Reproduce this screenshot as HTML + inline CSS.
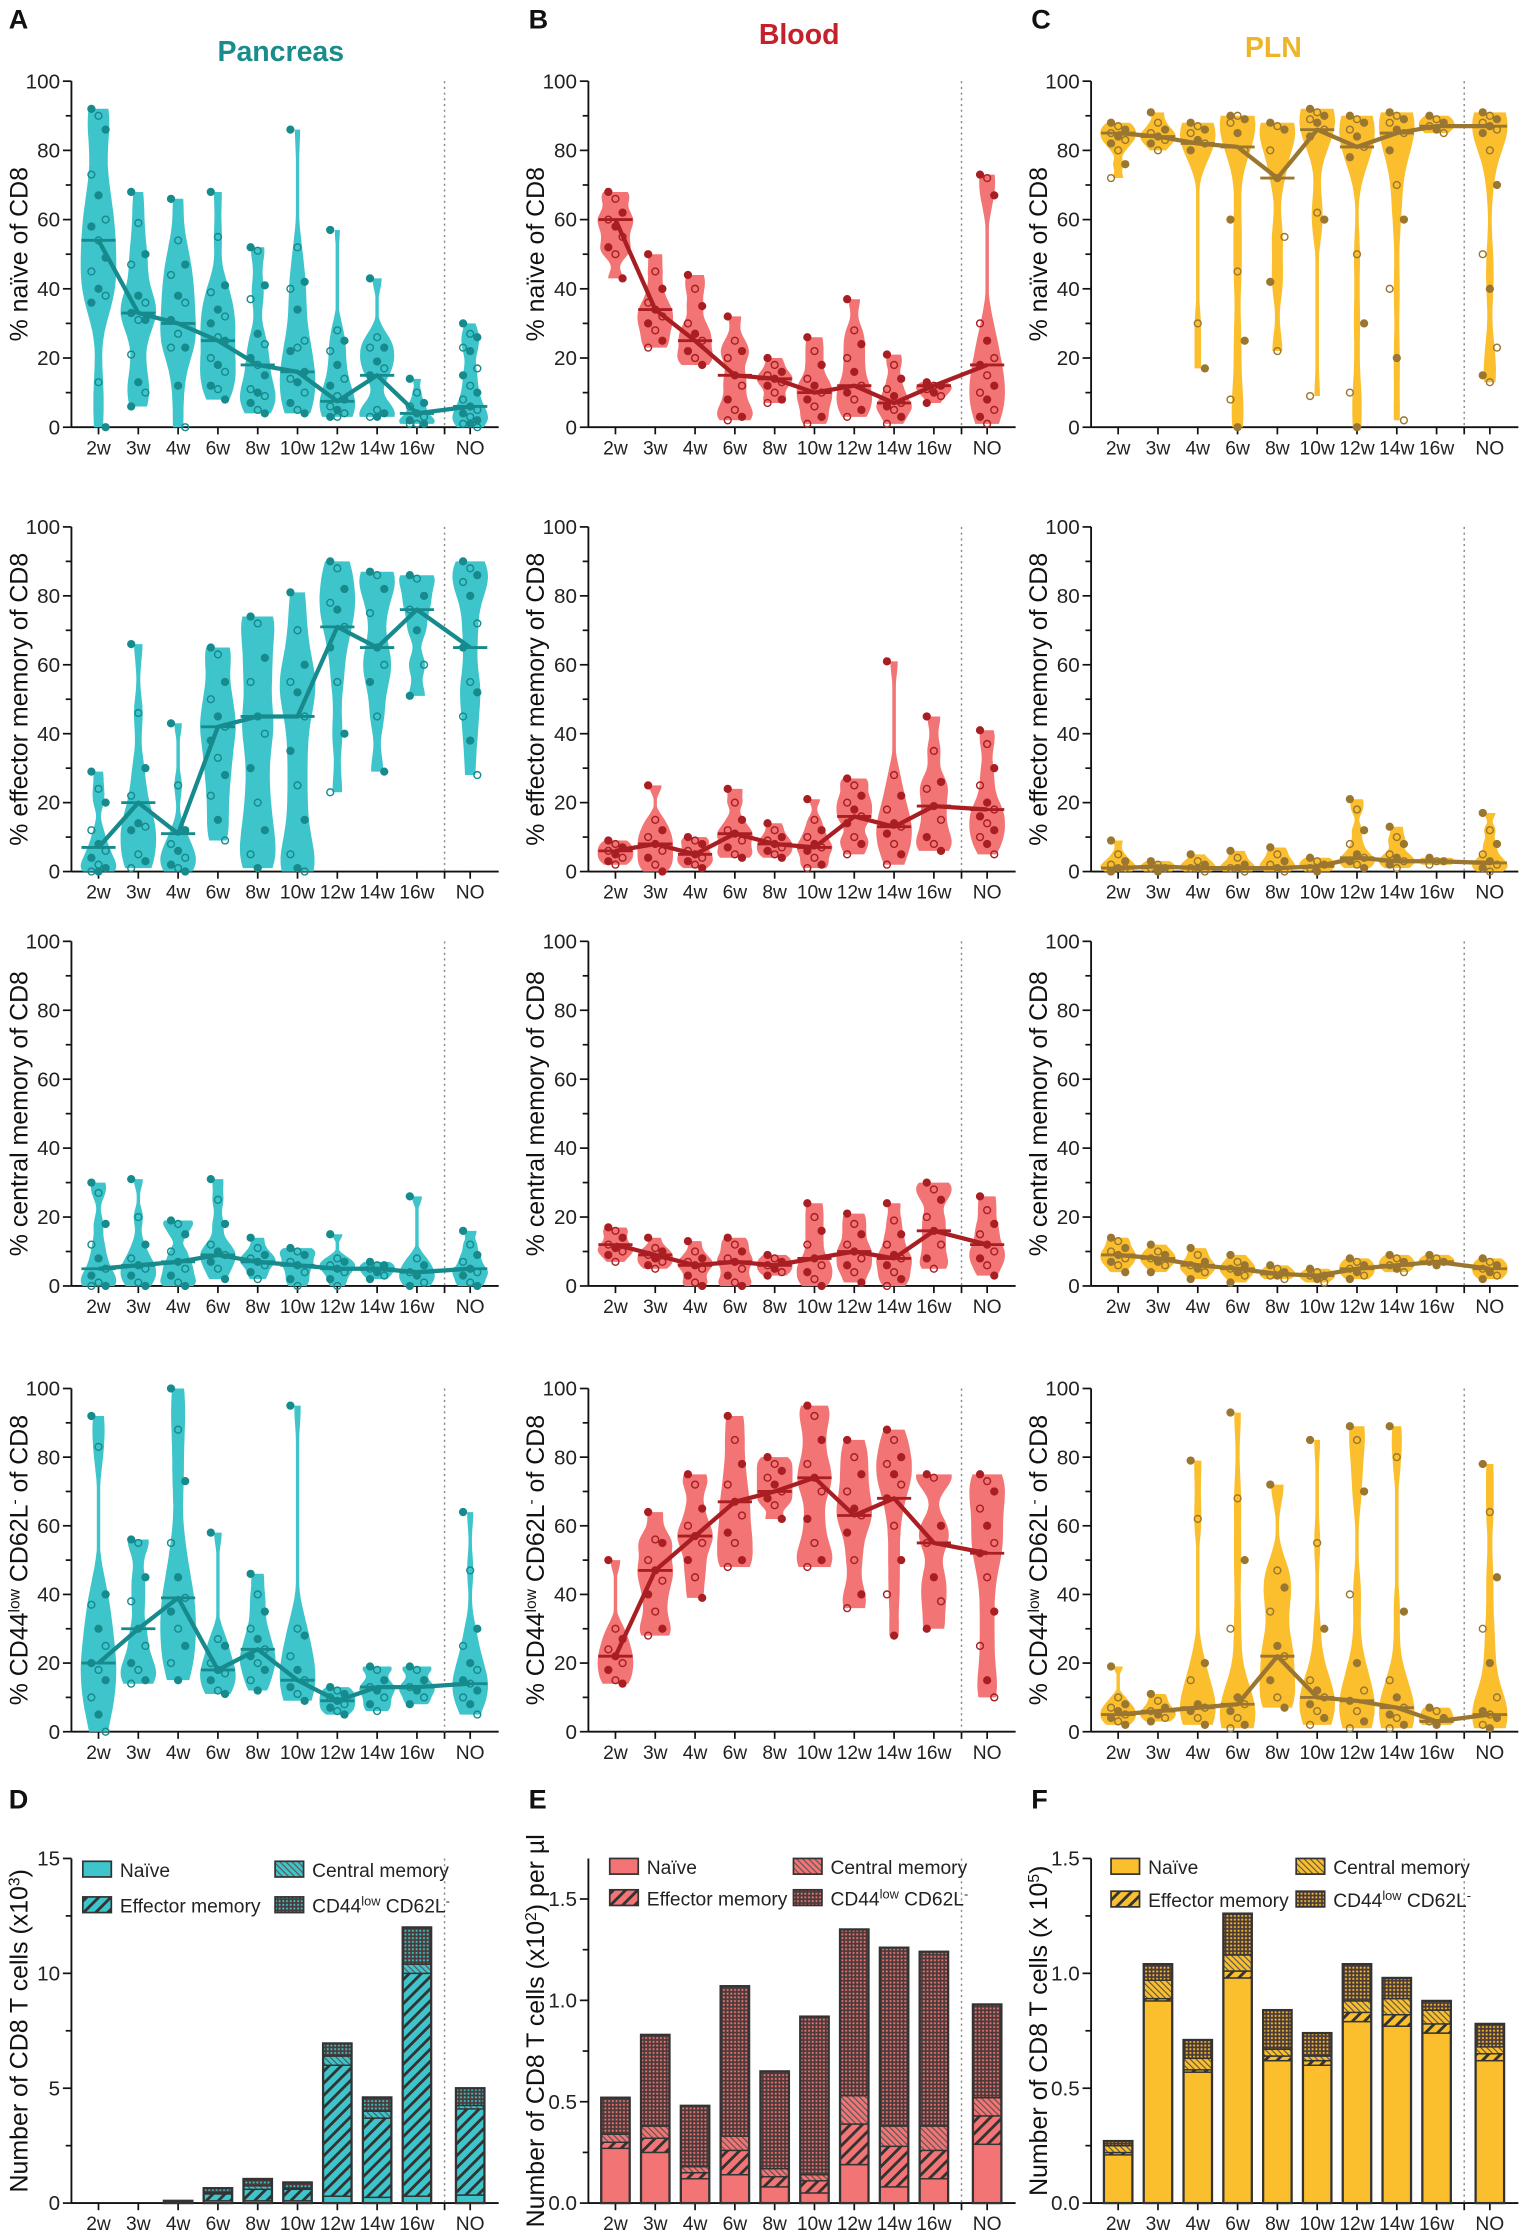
<!DOCTYPE html>
<html><head><meta charset="utf-8"><style>
html,body{margin:0;padding:0;background:#fff}
svg{display:block}
text{font-family:"Liberation Sans",sans-serif}
</style></head><body>
<svg id="fig" width="1520" height="2233" viewBox="0 0 1067 1568" xmlns="http://www.w3.org/2000/svg"></svg>
<script>
// ---------- data ----------
const categories = ["2w","3w","4w","6w","8w","10w","12w","14w","16w","NO"];
const tissues = ["Pancreas","Blood","PLN"];
const rowTitles = ["% naïve of CD8","% effector memory of CD8","% central memory of CD8","CD44"];
const pancNaive = [[92,90,86,73,67,60,58,54,49,45,40,38,36,13,0],[68,59,50,47,38,36,33,31,31,21,13,10,6],[66,54,47,44,38,36,31,27,23,23,12,0],[68,55,41,39,34,32,30,26,25,20,18,16,12,11,8],[52,51,41,37,27,24,20,18,15,11,10,9,7,5,4],[86,52,42,40,34,25,22,23,16,14,13,10,7,5,4],[57,28,25,22,18,14,12,9,8,6,5,4,3,3],[43,26,23,23,19,17,15,5,4,3,3],[14,10,7,6,4,3,2,1,1,1],[30,27,26,23,22,17,15,12,10,8,6,5,4,3,2,1,1,0]];
const pancEff = [[29,24,20,12,8,6,4,2,1,0,0],[66,46,30,22,14,13,12,5,3,1],[43,25,12,8,6,4,2,1,0],[65,63,55,50,45,42,38,33,28,22,15,9],[74,72,62,55,45,40,30,20,12,5,1],[81,70,60,55,52,45,35,25,15,5,1,0],[90,88,82,78,76,71,65,55,40,23],[87,86,82,75,65,60,55,45,29],[86,85,80,76,70,60,51],[90,88,86,84,80,72,65,55,52,45,38,28]];
const pancCen = [[30,27,18,12,8,5,3,1,0,0],[31,20,12,8,6,5,3,1,0],[19,18,15,10,7,5,3,1,0],[31,25,18,12,10,9,7,5,2],[14,11,9,8,7,6,4,2],[11,10,9,7,6,4,2,0],[15,8,7,6,5,4,2,0],[7,6,6,5,4,3,2],[26,8,6,4,3,1,0],[16,12,9,7,5,4,3,1,0]];
const pancCd44 = [[92,83,40,37,30,25,20,18,15,10,5,0],[56,55,45,38,30,25,20,18,15,14],[100,88,73,55,45,39,35,30,25,20,15],[58,27,25,20,18,17,15,12,11],[46,40,35,30,27,24,22,20,18,15,12],[95,30,28,22,18,15,13,11,9],[13,12,11,10,9,8,7,6,5],[19,18,15,13,12,10,8,6],[19,18,15,13,12,10,8],[64,47,30,25,20,18,15,14,12,10,8,5]];
const bloodNaive = [[68,66,62,60,58,55,52,50,43],[50,45,40,36,34,32,30,28,25,23],[44,40,35,30,27,25,22,20,18],[32,25,22,20,15,12,8,5,3,2],[20,18,16,15,14,13,12,10,8,7],[26,22,18,14,12,10,8,6,3,1],[37,28,24,20,16,12,10,8,5,3],[21,18,14,11,9,7,6,5,3,1],[13,12,12,11,10,9,7],[73,72,67,30,25,20,18,15,12,10,8,5,3,1]];
const bloodEff = [[9,8,7,6,5,4,3,2],[25,15,12,10,8,6,4,2,0],[10,9,8,6,5,4,3,2,1],[24,20,15,12,11,9,7,5,4],[14,12,10,9,8,7,6,5,4],[21,15,12,10,8,7,6,4,2,1],[27,25,22,20,18,16,14,10,8,5],[61,28,22,18,14,13,11,8,5,2],[45,35,26,24,19,15,10,8,6],[41,37,30,25,20,18,16,14,12,10,8,5]];
const bloodCen = [[17,16,14,12,11,10,9,7],[14,11,10,9,8,7,6,5],[13,10,8,7,6,5,3,1,0],[14,12,10,8,7,5,3,1,0],[9,8,7,6,5,4,3],[24,20,16,12,8,6,4,2,0],[21,18,15,12,10,8,6,4,1],[24,19,15,12,9,8,6,4,2,0],[30,28,25,20,16,12,8,5],[26,22,18,15,12,10,8,6,3]];
const bloodCd44 = [[50,30,27,24,22,20,18,15,14],[64,56,55,50,47,44,40,35,30,28],[75,72,65,60,57,55,50,45,39],[92,85,78,72,67,63,58,55,50,48],[80,78,76,74,72,70,68,66,62],[95,92,85,78,74,70,62,55,50,48],[85,80,75,70,65,63,58,50,40,36],[88,85,80,78,75,72,68,60,50,40,28],[75,74,60,55,45,38,30],[75,73,70,65,60,55,52,45,35,25,15,10]];
const plnNaive = [[88,87,86,85,84,83,82,80,76,72],[91,88,86,85,84,83,82,80],[88,87,86,85,83,82,80,30,17],[90,90,89,88,85,80,60,45,25,8,0],[88,87,86,80,72,55,42,22],[92,91,90,89,88,86,84,62,60,9],[90,89,88,86,84,81,78,50,30,10,0],[91,90,89,88,86,85,80,70,60,40,20,2],[90,89,88,87,86,85],[91,90,89,88,87,86,85,80,70,50,40,23,15,13]];
const plnEff = [[9,5,3,2,1,1,0],[3,2,1,1,0],[5,3,2,1,1,0],[6,4,2,1,1,0],[7,5,3,2,1,0],[4,3,2,1,0],[21,18,12,8,5,4,3,2,1],[13,10,8,5,4,3,2,1],[4,3,3,2],[17,12,8,5,3,2,1,0]];
const plnCen = [[14,13,11,10,9,8,7,6,4],[12,10,9,8,7,6,4],[11,9,7,6,5,4,2],[9,7,6,5,4,3,1],[6,5,4,3,3,2],[5,4,3,3,2,1],[8,7,6,5,4,3,2],[9,8,7,6,5,4],[9,8,7,7,6],[8,7,6,5,4,3,2]];
const plnCd44 = [[19,10,8,7,6,5,4,3,2],[11,9,7,6,5,4,3],[79,62,20,15,8,7,6,4,2],[93,68,50,30,10,8,6,4,2,1],[72,47,42,35,25,22,15,10,7],[85,55,30,15,12,10,8,6,4,2],[89,85,70,40,20,12,9,6,3,1],[89,80,35,15,10,7,5,4,2,1],[7,6,4,3,2],[78,64,45,30,20,10,6,5,4,2,1]];
const pancMed = [[54,33,30,25,18,16,7.5,15,4,6],[7,20,11,42,45,45,71,65,76,65],[5,6,7,9,7,6,5,5,4,5],[20,30,39,18,24,15,9,13,13,14]];
const bloodMed = [[60,34,25,15,14,10,12,7,12,18],[6,8,5,11,8,7,16,13,19,18],[12,9,6,7,6,8,10,8,16,12],[22,47,57,67,70,74,63,68,55,52]];
const plnMed = [[85,84,82,81,72,86,81,85,87,87],[1,1.5,1,1,1,1.5,4,3,3,2.5],[9,8,6,5,3.5,3,5,6,7,5],[5,6,7,8,22,10,9,7,3,5]];
const barSeries = ["Naïve","Effector memory","Central memory","CD44low CD62L-"];
const pancBars = [[0,0,0,0],[0,0,0,0],[0.03,0.03,0.01,0.03],[0.1,0.3,0.05,0.2],[0.1,0.5,0.15,0.3],[0.1,0.5,0.05,0.25],[0.3,5.7,0.4,0.55],[0.25,3.45,0.3,0.6],[0.3,9.7,0.4,1.6],[0.35,3.75,0.15,0.75]];
const bloodBars = [[0.27,0.03,0.04,0.18],[0.25,0.07,0.06,0.45],[0.12,0.03,0.03,0.3],[0.14,0.12,0.07,0.74],[0.08,0.05,0.04,0.48],[0.05,0.06,0.03,0.78],[0.19,0.2,0.14,0.82],[0.08,0.2,0.1,0.88],[0.12,0.14,0.12,0.86],[0.29,0.14,0.09,0.46]];
const plnBars = [[0.21,0.01,0.03,0.02],[0.88,0.01,0.08,0.07],[0.57,0.01,0.05,0.08],[0.98,0.03,0.07,0.18],[0.62,0.02,0.03,0.17],[0.6,0.02,0.02,0.1],[0.79,0.04,0.05,0.16],[0.77,0.05,0.07,0.09],[0.74,0.04,0.06,0.04],[0.62,0.03,0.03,0.1]];
const barMax = [15,1.7,1.5];
const barTickMax = [15,1.5,1.5];
const barTicks = [["0","5","10","15"],["0.0","0.5","1.0","1.5"],["0.0","0.5","1.0","1.5"]];
const violinTicks = ["0","20","40","60","80","100"];

// ---------- layout ----------
const NS="http://www.w3.org/2000/svg";
const svg=document.getElementById('fig');
function el(tag,attrs,parent){const e=document.createElementNS(NS,tag);for(const k in attrs)e.setAttribute(k,attrs[k]);(parent||svg).appendChild(e);return e;}
const colOff=[0,363,716];
const fills=['#3ec5cb','#f37474','#fbbf2d'];
const darks=['#168a8c','#a81e22','#9a7630'];
const titleCols=['#1a8c8c','#c4212a','#eeb42a'];
const rows=[[57,300],[370,612],[661,903],[975,1216]];
const barRow=[1305,1547];
function cx(c,i){return colOff[c]+(i<9?69+i*27.95:330);}
const vdata=[[pancNaive,pancEff,pancCen,pancCd44],[bloodNaive,bloodEff,bloodCen,bloodCd44],[plnNaive,plnEff,plnCen,plnCd44]];
const meds=[pancMed,bloodMed,plnMed];
const bars=[pancBars,bloodBars,plnBars];

const defs=el('defs',{});
for(let c=0;c<3;c++){
  let p=el('pattern',{id:'eff'+c,width:6,height:6,patternUnits:'userSpaceOnUse',patternTransform:'rotate(45)'},defs);
  el('rect',{width:6,height:6,fill:fills[c]},p);el('rect',{width:2,height:6,fill:'#333'},p);
  p=el('pattern',{id:'cen'+c,width:3,height:3,patternUnits:'userSpaceOnUse',patternTransform:'rotate(-45)'},defs);
  el('rect',{width:3,height:3,fill:fills[c]},p);el('rect',{width:0.8,height:3,fill:'#555'},p);
  p=el('pattern',{id:'cd'+c,width:2.6,height:2.6,patternUnits:'userSpaceOnUse'},defs);
  el('rect',{width:2.6,height:2.6,fill:'#4a3a3a'},p);el('rect',{x:0.5,y:0.5,width:1.3,height:1.3,fill:fills[c]},p);
}

function yScale(r,v){const [t,b]=rows[r];return b-(v/100)*(b-t);}
function axisFrame(c,top,bot,tickLabels,maxV,minorStep,majorStep,g,tickMax){
  const x0=colOff[c]+50, x1=colOff[c]+350;
  const ax=el('g',{},g);
  
  el('line',{x1:x0,y1:top,x2:x0,y2:bot,stroke:'#111','stroke-width':1.3},ax);
  const xa=el('g',{},g);
  
  el('line',{x1:x0,y1:bot,x2:x1,y2:bot,stroke:'#111','stroke-width':1.3},xa);
  const tm=tickMax===undefined?maxV:tickMax;
  for(let v=0;v<=tm+1e-9;v+=minorStep){
    const y=bot-(v/maxV)*(bot-top);
    const major=Math.abs(v/majorStep-Math.round(v/majorStep))<1e-6;
    el('line',{x1:x0-(major?6:4),y1:y,x2:x0,y2:y,stroke:'#111','stroke-width':1.2},ax);
    if(major){const t=el('text',{x:x0-8,y:y+5,'text-anchor':'end','font-size':14.5,fill:'#222'},ax);t.textContent=tickLabels[Math.round(v/majorStep)];}
  }
  for(let i=0;i<10;i++){
    const x=cx(c,i);
    el('line',{x1:x,y1:bot,x2:x,y2:bot+5,stroke:'#111','stroke-width':1.2},xa);
    const t=el('text',{x:x,y:bot+19,'text-anchor':'middle','font-size':13.5,fill:'#222'},xa);t.textContent=categories[i];
  }
  el('line',{x1:colOff[c]+312,y1:bot,x2:colOff[c]+312,y2:bot+5,stroke:'#111','stroke-width':1.2},xa);
  el('line',{x1:colOff[c]+312,y1:top,x2:colOff[c]+312,y2:bot,stroke:'#888','stroke-width':1,'stroke-dasharray':'1.5,2.5'},g);
}
function yTitle(c,top,bot,parts,g){
  const t=el('text',{transform:`translate(${colOff[c]+19},${(top+bot)/2}) rotate(-90)`,'text-anchor':'middle','font-size':17.5,fill:'#111'},g);
  
  parts.forEach(p=>{const s=el('tspan',p.sup?{'baseline-shift':'super','font-size':11}:{},t);s.textContent=p.t;});
}

["A","B","C"].forEach((L,c)=>{const t=el('text',{x:colOff[c]+6+(c?2:0),y:20,'font-size':19,'font-weight':'bold',fill:'#111'});t.textContent=L;});
["D","E","F"].forEach((L,c)=>{const t=el('text',{x:colOff[c]+6+(c?2:0),y:1270,'font-size':19,'font-weight':'bold',fill:'#111'});t.textContent=L;});
[[197,43],[561,31],[894,40]].forEach((p,c)=>{const t=el('text',{x:p[0],y:p[1],'text-anchor':'middle','font-size':20,'font-weight':'bold',fill:titleCols[c]});t.textContent=tissues[c];});

for(let c=0;c<3;c++){
  for(let r=0;r<4;r++){
    const g=el('g',{});
    
    
    const [top,bot]=rows[r];
    axisFrame(c,top,bot,violinTicks,100,10,20,g);
    if(r<3) yTitle(c,top,bot,[{t:rowTitles[r]}],g);
    else yTitle(c,top,bot,[{t:'% CD44'},{t:'low',sup:1},{t:' CD62L'},{t:'-',sup:1},{t:' of CD8'}],g);
    const data=vdata[c][r];
    for(let i=0;i<10;i++){
      const vals=data[i];const x=cx(c,i);
      const mn=Math.min(...vals),mx=Math.max(...vals);
      const bw=Math.max((mx-mn)*0.09,1.5);
      const N=40;const dens=[];
      for(let k=0;k<=N;k++){const y=mn+(mx-mn)*k/N;let d=0;vals.forEach(v=>{d+=Math.exp(-0.5*((y-v)/bw)**2);});dens.push([y,d]);}
      const dm=Math.max(...dens.map(d=>d[1]));
      const hw=d=>Math.max(1.2,12.5*d/dm);
      let path='';
      dens.forEach((d,k)=>{path+=(k?'L':'M')+(x+hw(d[1])).toFixed(1)+','+yScale(r,d[0]).toFixed(1);});
      for(let k=N;k>=0;k--){path+='L'+(x-hw(dens[k][1])).toFixed(1)+','+yScale(r,dens[k][0]).toFixed(1);}
      const v=el('path',{d:path+'Z',fill:fills[c]},g);
      
      
      vals.forEach((val,k)=>{
        const off=((k%3)-1)*5;
        const pt=el('circle',{cx:x+off,cy:yScale(r,val),r:2.4,fill:k%2?'none':darks[c],stroke:darks[c],'stroke-width':1},g);
        
        
      });
      el('line',{x1:x-12,x2:x+12,y1:yScale(r,meds[c][r][i]),y2:yScale(r,meds[c][r][i]),stroke:darks[c],'stroke-width':2},g);
    }
    let lp='';
    meds[c][r].forEach((m,i)=>{lp+=(i?'L':'M')+cx(c,i)+','+yScale(r,m);});
    const ln=el('path',{d:lp,fill:'none',stroke:darks[c],'stroke-width':3,'stroke-linejoin':'round'},g);
    
    
  }
}

const barTitles=[[{t:'Number of  CD8 T cells (x10'},{t:'3',sup:1},{t:')'}],[{t:'Number of  CD8 T cells (x10'},{t:'2',sup:1},{t:') per µl'}],[{t:'Number of  CD8 T cells (x 10'},{t:'5',sup:1},{t:')'}]];
const legPos=[[58,193],[428,557],[780,910]];
const legY=[[1313,1338],[1311,1333],[1311,1334]];
for(let c=0;c<3;c++){
  const g=el('g',{});
  
  
  const [top,bot]=barRow;const M=barMax[c];const TM=barTickMax[c];
  axisFrame(c,top,bot,barTicks[c],M,TM/6,TM/3,g,TM);
  yTitle(c,top,bot,barTitles[c],g);
  const ys=v=>bot-(v/M)*(bot-top);
  const fillsFor=[fills[c],'url(#eff'+c+')','url(#cen'+c+')','url(#cd'+c+')'];
  for(let i=0;i<10;i++){
    const x=cx(c,i);let acc=0;
    const seg=bars[c][i];
    seg.forEach((v,s)=>{
      if(v<=0)return;
      const y1=ys(acc+v),y0=ys(acc);
      const rct=el('rect',{x:x-10,y:y1,width:20,height:Math.max(0.5,y0-y1),fill:fillsFor[s],stroke:'#333','stroke-width':1},g);
      
      
      acc+=v;
    });
    if(acc>0){el('rect',{x:x-10,y:ys(acc),width:20,height:ys(0)-ys(acc),fill:'none',stroke:'#333','stroke-width':1.6},g);}
  }
  const lg=el('g',{},g);
  
  
  [[0,0,0],[1,0,1],[2,1,0],[3,1,1]].forEach(([s,col,row])=>{
    const lx=legPos[c][col],ly=legY[c][row];
    const e=el('g',{},lg);
    
    
    el('rect',{x:lx,y:ly-6,width:20,height:11,fill:fillsFor[s],stroke:'#333','stroke-width':1.2},e);
    const t=el('text',{x:lx+26,y:ly+5,'font-size':13.5,fill:'#222'},e);
    if(s===3){[['CD44',0],['low',1],[' CD62L',0],['-',1]].forEach(([tx,sup])=>{const sp=el('tspan',sup?{'baseline-shift':'super','font-size':9}:{},t);sp.textContent=tx;});}
    else t.textContent=barSeries[s];
  });
}
</script>
</body></html>
